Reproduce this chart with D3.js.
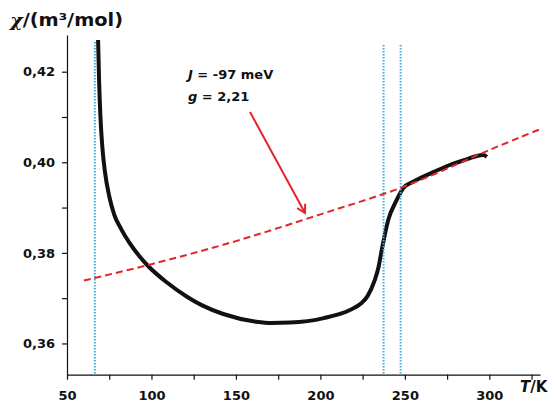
<!DOCTYPE html>
<html>
<head>
<meta charset="utf-8">
<script src="https://cdn.jsdelivr.net/npm/d3@7"></script>
<style>
	body { margin: 0; background: #fff; }
	svg { display: block; }
	.axis text { font-family: 'DejaVu Sans', sans-serif; font-weight: bold; font-size: 13px; fill: #111; }
	.axis path, .axis line { stroke: #111; stroke-width: 1.2; }
</style>
</head>
<body>
<div id="chart"></div>
<script>
// measured susceptibility (black curve)
const measT = [68.4, 69.0, 69.8, 71.0, 72.5, 75, 78, 82, 87, 93, 98, 109, 121, 130, 142.5, 162, 171, 182, 202, 217.5, 224, 228, 232, 234.5, 236.3, 240.2, 245.2, 249.1, 254.9, 265, 276.6, 287, 292.6, 296.5, 298.5];
const measChi = [0.427, 0.418, 0.410, 0.403, 0.3978, 0.3925, 0.3884, 0.3853, 0.3822, 0.3792, 0.3771, 0.3735, 0.3703, 0.3684, 0.3665, 0.3648, 0.3645, 0.3646, 0.3656, 0.3674, 0.3688, 0.3705, 0.3738, 0.3770, 0.3806, 0.3873, 0.3917, 0.3943, 0.3957, 0.3975, 0.3994, 0.4007, 0.4014, 0.4016, 0.4012];

// model fit (red dashed)
const fitT = [60, 100, 150, 200, 250, 300, 330];
const fitChi = [0.3739, 0.3775, 0.3826, 0.3885, 0.3947, 0.4027, 0.4073];

// transition temperatures (cyan dotted)
const markT = [66.5, 237.4, 247.5];

const xTicks = [50, 75, 100, 125, 150, 175, 200, 225, 250, 275, 300, 325];
const yTicks = [0.36, 0.37, 0.38, 0.39, 0.40, 0.41, 0.42];
const annot = [['J', ' = -97 meV'], ['g', ' = 2,21']];

const width = 555;
const height = 405;

const svg = d3.select('#chart').append('svg')
	.attr('width', width)
	.attr('height', height);

const x = d3.scaleLinear().domain([50, 330]).range([67, 540]);
const y = d3.scaleLinear().domain([0.3531, 0.4281]).range([374.7, 35]);

const comma = d3.formatLocale({ decimal: ',', thousands: '.', grouping: [3], currency: ['', ''] }).format('.2f');

const xAxis = d3.axisBottom(x)
	.tickValues(xTicks)
	.tickSize(5)
	.tickSizeOuter(0)
	.tickPadding(11)
	.tickFormat(d => d % 50 === 0 ? d : '');
const yAxis = d3.axisLeft(y)
	.tickValues(yTicks)
	.tickSize(5)
	.tickSizeOuter(0)
	.tickPadding(7)
	.tickFormat(d => Math.round(d * 100) % 2 === 0 ? comma(d) : '');

svg.append('g')
	.attr('class', 'x axis')
	.attr('transform', `translate(0, ${y.range()[0]})`)
	.call(xAxis);
svg.append('g')
	.attr('class', 'y axis')
	.attr('transform', `translate(${x.range()[0]}, 0)`)
	.call(yAxis);

const line = d3.line()
	.x(d => x(d[0]))
	.y(d => y(d[1]));

// measured curve
svg.append('path')
	.attr('d', line.curve(d3.curveMonotoneX)(d3.zip(measT, measChi)))
	.style('fill', 'none')
	.style('stroke', '#111')
	.style('stroke-width', 4)
	.style('stroke-linejoin', 'round');

// dotted markers
svg.selectAll('.mark')
	.data(markT)
	.enter().append('line')
	.attr('class', 'mark')
	.attr('x1', d => x(d))
	.attr('x2', d => x(d))
	.attr('y1', (d, i) => i === 0 ? 42 : 45)
	.attr('y2', y.range()[0])
	.style('stroke', '#3fb0dc')
	.style('stroke-width', 2)
	.style('stroke-dasharray', '1.5,1.5');

// fit curve
svg.append('path')
	.attr('d', line.curve(d3.curveCatmullRom)(d3.zip(fitT, fitChi)))
	.style('fill', 'none')
	.style('stroke', '#e2262b')
	.style('stroke-width', 2)
	.style('stroke-dasharray', '7,4');

// arrow
svg.append('defs').append('marker')
	.attr('id', 'head')
	.attr('viewBox', '-10 -6 12 12')
	.attr('markerWidth', 12)
	.attr('markerHeight', 12)
	.attr('markerUnits', 'userSpaceOnUse')
	.attr('orient', 'auto')
	.append('path')
		.attr('d', 'M-8,-4.5L0,0L-8,4.5')
		.style('fill', 'none')
		.style('stroke', '#e2262b')
		.style('stroke-width', 2);

svg.append('line')
	.attr('x1', 250).attr('y1', 112)
	.attr('x2', 305).attr('y2', 213)
	.attr('marker-end', 'url(#head)')
	.style('stroke', '#e2262b')
	.style('stroke-width', 2);

// labels
const labels = svg.append('g')
	.style('font-family', "'DejaVu Sans', sans-serif")
	.style('font-weight', 'bold')
	.style('fill', '#111');

annot.forEach((a, i) => {
	const t = labels.append('text')
		.attr('x', 188)
		.attr('y', 79 + i * 22)
		.style('font-size', '13px');
	t.append('tspan').style('font-style', 'italic').text(a[0]);
	t.append('tspan').text(a[1]);
});

const yl = labels.append('text')
	.attr('x', 10)
	.attr('y', 26)
	.attr('textLength', 113)
	.attr('lengthAdjust', 'spacingAndGlyphs')
	.style('font-size', '17px');
yl.append('tspan').style('font-style', 'italic').style('font-family', "'DejaVu Serif', serif").text('χ');
yl.append('tspan').text('/(m³/mol)');

const xl = labels.append('text')
	.attr('x', 520)
	.attr('y', 392)
	.style('font-size', '15px');
xl.append('tspan').style('font-style', 'italic').text('T');
xl.append('tspan').text('/K');
</script>
</body>
</html>
